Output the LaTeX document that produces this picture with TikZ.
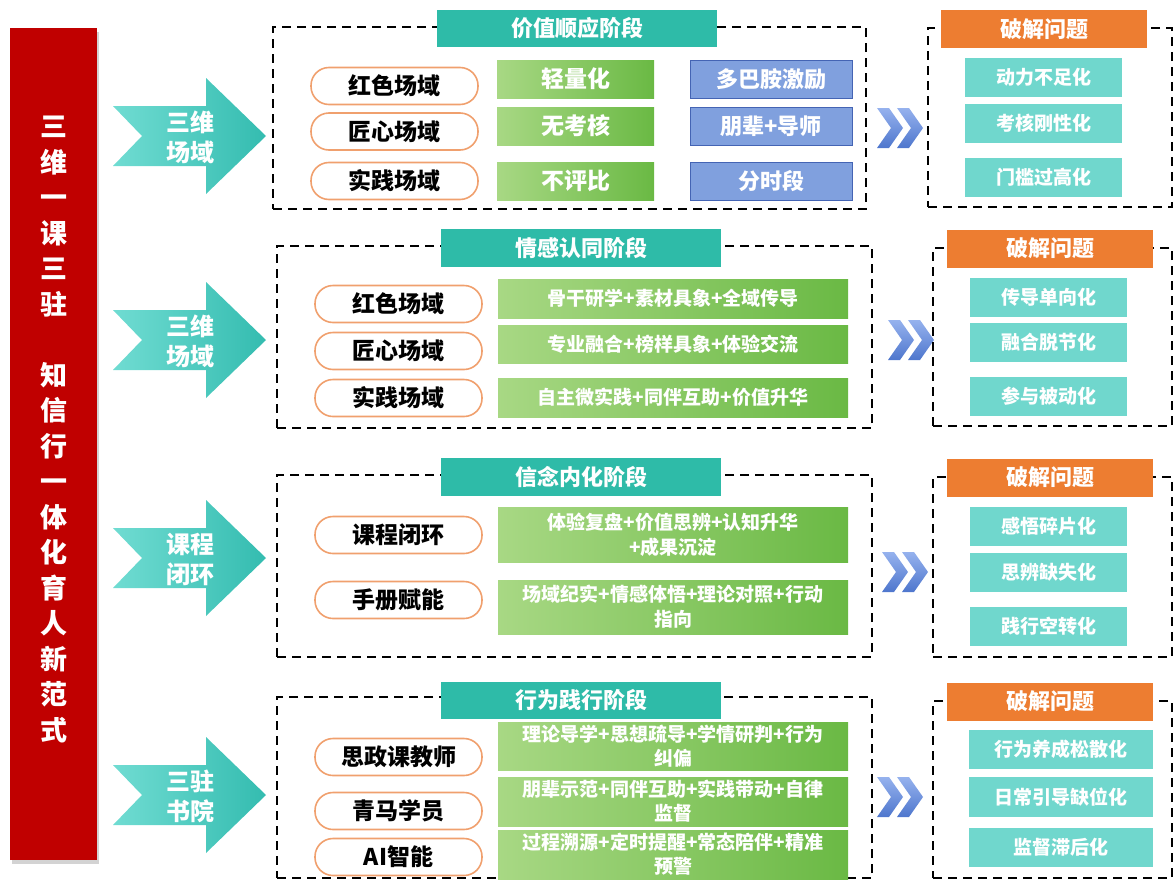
\documentclass[tikz,border=0pt]{standalone}
\usepackage{fontspec}
\setmainfont{Noto Sans CJK SC}
\usetikzlibrary{shadows}
\definecolor{barred}{RGB}{192,0,0}
\definecolor{arrowL}{RGB}{112,220,210}
\definecolor{arrowR}{RGB}{52,188,176}
\definecolor{titleteal}{RGB}{46,187,168}
\definecolor{greenL}{RGB}{168,216,132}
\definecolor{greenR}{RGB}{106,185,68}
\definecolor{bluefill}{RGB}{128,160,222}
\definecolor{blueedge}{RGB}{68,100,180}
\definecolor{ovaledge}{RGB}{240,160,110}
\definecolor{hdrorange}{RGB}{237,125,49}
\definecolor{itemteal}{RGB}{112,215,205}
\definecolor{chevL}{RGB}{150,178,238}
\definecolor{chevD}{RGB}{78,118,205}
\begin{document}
\begin{tikzpicture}[x=1pt,y=-1pt,
  dashbox/.style={draw=black, line width=2.4pt, dash pattern=on 9pt off 6pt, inner sep=0pt},
  stagetitle/.style={fill=titleteal, text=white, font=\bfseries\fontsize{22}{26}\selectfont, minimum width=280pt, minimum height=37pt, inner sep=0pt},
  oval/.style={draw=ovaledge, line width=1.6pt, fill=white, rounded corners=18pt, minimum width=167pt, minimum height=37pt, inner sep=0pt, font=\bfseries\fontsize{23}{26}\selectfont},
  greenbox/.style={left color=greenL, right color=greenR, text=white, inner sep=0pt, align=center},
  gshort/.style={greenbox, minimum width=157pt, minimum height=38pt, font=\bfseries\fontsize{23}{26}\selectfont},
  gwide/.style={greenbox, minimum width=350pt, font=\bfseries\fontsize{19}{25}\selectfont},
  bluebox/.style={fill=bluefill, draw=blueedge, line width=1pt, text=white, minimum width=162pt, minimum height=38pt, inner sep=0pt, font=\bfseries\fontsize{22}{26}\selectfont},
  hdr/.style={fill=hdrorange, text=white, minimum width=206pt, minimum height=38pt, inner sep=0pt, font=\bfseries\fontsize{22}{26}\selectfont},
  item/.style={fill=itemteal, text=white, minimum width=157pt, minimum height=39pt, inner sep=0pt, font=\bfseries\fontsize{19}{22}\selectfont},
  arrowtext/.style={text=white, align=center, font=\bfseries\fontsize{24}{30}\selectfont},
  bigarrow/.pic={\shade[left color=arrowL, right color=arrowR] (0,-30) -- (93,-30) -- (93,-58) -- (153,0) -- (93,58) -- (93,30) -- (0,30) -- (29,0) -- cycle;},
  chev/.pic={\shade[top color=chevL, bottom color=chevD] (0,0) -- (12,0) -- (26,20) -- (12,40) -- (0,40) -- (14,20) -- cycle (20,0) -- (32,0) -- (46,20) -- (32,40) -- (20,40) -- (34,20) -- cycle;}
]
\useasboundingbox (0,0) rectangle (1175,881);

% left red bar
\node[fill=barred, minimum width=87pt, minimum height=832pt, inner sep=0pt, drop shadow={shadow xshift=2pt, shadow yshift=-4pt, opacity=0.35}] (bar) at (53.5,444) {};
\node[text=white, align=center, font=\bfseries\fontsize{27}{35.5}\selectfont] (bartext) at (53.5,429.5) {三\\维\\一\\课\\三\\驻\\[35.5pt]知\\信\\行\\一\\体\\化\\育\\人\\新\\范\\式};

% teal arrows
\pic (a1) at (113,136) {bigarrow};
\pic (a2) at (113,340) {bigarrow};
\pic (a3) at (113,558) {bigarrow};
\pic (a4) at (113,795) {bigarrow};
\node[arrowtext] (a1t) at (190,137) {三维\\场域};
\node[arrowtext] (a2t) at (190,341) {三维\\场域};
\node[arrowtext] (a3t) at (190,559) {课程\\闭环};
\node[arrowtext] (a4t) at (190,796) {三驻\\书院};

% ===== panel 1 =====
\node[dashbox, minimum width=593pt, minimum height=182pt] (p1) at (569.5,118) {};
\node[stagetitle] (t1) at (577,28.5) {价值顺应阶段};
\node[oval] (o11) at (394.5,86) {红色场域};
\node[oval] (o12) at (394.5,131.5) {匠心场域};
\node[oval] (o13) at (394.5,181) {实践场域};
\node[gshort] (g11) at (575.5,79) {轻量化};
\node[gshort] (g12) at (575.5,126) {无考核};
\node[gshort] (g13) at (575.5,181) {不评比};
\node[bluebox] (b11) at (771,79) {多巴胺激励};
\node[bluebox] (b12) at (771,126) {朋辈+导师};
\node[bluebox] (b13) at (771,181) {分时段};
\pic (c1) at (877,108) {chev};
\node[dashbox, minimum width=244pt, minimum height=179pt] (r1) at (1050,117.5) {};
\node[hdr] (h1) at (1044,29) {破解问题};
\node[item] (i11) at (1043.5,77) {动力不足化};
\node[item] (i12) at (1043.5,123) {考核刚性化};
\node[item] (i13) at (1043.5,177.5) {门槛过高化};

% ===== panel 2 =====
\node[dashbox, minimum width=595pt, minimum height=182pt] (p2) at (574.5,337) {};
\node[stagetitle, minimum height=38pt] (t2) at (581,248) {情感认同阶段};
\node[oval] (o21) at (398.5,304) {红色场域};
\node[oval] (o22) at (398.5,351) {匠心场域};
\node[oval] (o23) at (398.5,398) {实践场域};
\node[gwide, minimum height=39pt] (g21) at (673,298.5) {骨干研学+素材具象+全域传导};
\node[gwide, minimum height=38pt] (g22) at (673,344) {专业融合+榜样具象+体验交流};
\node[gwide, minimum height=39pt] (g23) at (673,397.5) {自主微实践+同伴互助+价值升华};
\pic (c2) at (888,320) {chev};
\node[dashbox, minimum width=239pt, minimum height=178pt] (r2) at (1052.5,337) {};
\node[hdr] (h2) at (1050,248.5) {破解问题};
\node[item] (i21) at (1048.5,297) {传导单向化};
\node[item] (i22) at (1048.5,342) {融合脱节化};
\node[item] (i23) at (1048.5,396.5) {参与被动化};

% ===== panel 3 =====
\node[dashbox, minimum width=595pt, minimum height=182pt] (p3) at (574.5,566) {};
\node[stagetitle, minimum height=38pt] (t3) at (581,477) {信念内化阶段};
\node[oval] (o31) at (398.5,535) {课程闭环};
\node[oval] (o32) at (398.5,600) {手册赋能};
\node[gwide, minimum height=55pt] (g31) at (673,534.5) {体验复盘+价值思辨+认知升华\\+成果沉淀};
\node[gwide, minimum height=54pt] (g32) at (673,607) {场域纪实+情感体悟+理论对照+行动\\指向};
\pic (c3) at (882,552) {chev};
\node[dashbox, minimum width=239pt, minimum height=180pt] (r3) at (1052.5,567) {};
\node[hdr] (h3) at (1050,477.5) {破解问题};
\node[item] (i31) at (1048.5,526.5) {感悟碎片化};
\node[item] (i32) at (1048.5,572.5) {思辨缺失化};
\node[item] (i33) at (1048.5,626.5) {践行空转化};

% ===== panel 4 =====
\node[dashbox, minimum width=595pt, minimum height=181pt] (p4) at (574.5,787.5) {};
\node[stagetitle] (t4) at (581,700.5) {行为践行阶段};
\node[oval] (o41) at (398.5,757) {思政课教师};
\node[oval] (o42) at (398.5,811) {青马学员};
\node[oval] (o43) at (398.5,857) {AI智能};
\node[gwide, minimum height=48pt, font=\bfseries\fontsize{19}{24}\selectfont] (g41) at (673,746) {理论导学+思想疏导+学情研判+行为\\纠偏};
\node[gwide, minimum height=49pt, font=\bfseries\fontsize{19}{24}\selectfont] (g42) at (673,801.5) {朋辈示范+同伴互助+实践带动+自律\\监督};
\node[gwide, minimum height=49pt, font=\bfseries\fontsize{19}{24}\selectfont] (g43) at (673,854.5) {过程溯源+定时提醒+常态陪伴+精准\\预警};
\pic (c4) at (877,777) {chev};
\node[dashbox, minimum width=239pt, minimum height=177pt] (r4) at (1052.5,789.5) {};
\node[hdr] (h4) at (1050,701.5) {破解问题};
\node[item, minimum width=184pt] (i41) at (1061,749) {行为养成松散化};
\node[item, minimum width=184pt, minimum height=40pt] (i42) at (1061,797) {日常引导缺位化};
\node[item, minimum width=184pt] (i43) at (1061,847.5) {监督滞后化};
\end{tikzpicture}
\end{document}
